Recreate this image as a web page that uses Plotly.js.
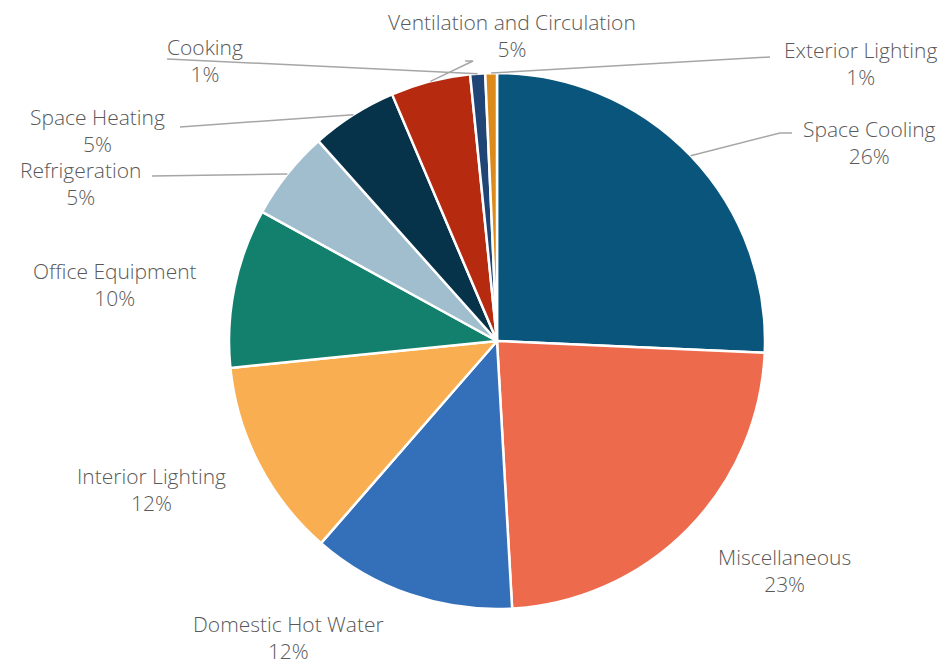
<!DOCTYPE html>
<html>
<head>
<meta charset="utf-8">
<script src="https://cdn.plot.ly/plotly-3.0.1.min.js"></script>
<style>html,body{margin:0;padding:0;background:#fff;}#chart{width:952px;height:667px;}</style>
</head>
<body>
<div id="chart"></div>
<script>
// ---- data ----
const categories = ["Space Cooling", "Miscellaneous", "Domestic Hot Water", "Interior Lighting",
  "Office Equipment", "Refrigeration", "Space Heating", "Ventilation and Circulation",
  "Cooking", "Exterior Lighting"];
const shares = [25.7, 23.4, 12.3, 12.0, 9.6, 5.4, 5.2, 4.8, 0.9, 0.7];
const colors = ["#0A557C", "#EE6A4D", "#3470B9", "#F9AF51", "#12806C",
  "#A0BECE", "#07334A", "#B62A10", "#1F4577", "#DB8A1B"];

// ---- layout constants (pixels) ----
const W = 952, H = 667;
const CX = 497, CY = 341, R = 268;
// label block centres and leader line anchor points (pixels); null = no leader
const labelPos = [
  {x: 869, y: 142, lead: [[792, 133], [780, 133]]},
  {x: 784, y: 570, lead: null},
  {x: 288, y: 637, lead: null},
  {x: 151, y: 489, lead: null},
  {x: 115, y: 284, lead: null},
  {x: 80,  y: 183, lead: [[152, 176]]},
  {x: 97,  y: 131, lead: [[180, 127]]},
  {x: 512, y: 36,  lead: [[465, 61], [473, 61]]},
  {x: 205, y: 60,  lead: [[167, 59]]},
  {x: 860, y: 64,  lead: [[770, 57]]}
];

const total = shares.reduce((a, b) => a + b, 0);
const domain = {
  x: [(CX - R) / W, (CX + R) / W],
  y: [1 - (CY + R) / H, 1 - (CY - R) / H]
};

const annotations = [];
const shapes = [];
let cum = 0;
categories.forEach((c, i) => {
  const mid = (cum + shares[i] / 2) / total * 2 * Math.PI;
  cum += shares[i];
  const lp = labelPos[i];
  annotations.push({
    xref: "paper", yref: "paper", x: lp.x / W, y: 1 - lp.y / H,
    xanchor: "center", yanchor: "middle", showarrow: false, align: "center",
    text: c + "<br>" + Math.round(shares[i]) + "%",
    font: {family: "'Open Sans', Lato, sans-serif", size: 21, weight: 300, color: "#595959"}
  });
  if (lp.lead) {
    const hx = CX + R * Math.sin(mid), hy = CY - R * Math.cos(mid);
    const pts = lp.lead.concat([[hx, hy]]);
    let path = "";
    pts.forEach((p, k) => {
      path += (k === 0 ? "M " : " L ") + (p[0] / W).toFixed(5) + "," + (1 - p[1] / H).toFixed(5);
    });
    shapes.push({type: "path", xref: "paper", yref: "paper", path: path,
      line: {color: "#A6A6A6", width: 1.5}, layer: "above"});
  }
});

const trace = {
  type: "pie",
  labels: categories,
  values: shares,
  sort: false,
  direction: "clockwise",
  rotation: 0,
  textinfo: "none",
  hoverinfo: "label+percent",
  marker: {colors: colors, line: {color: "#FFFFFF", width: 2.5}},
  domain: domain,
  showlegend: false
};

const layout = {
  width: W, height: H,
  margin: {l: 0, r: 0, t: 0, b: 0},
  paper_bgcolor: "#FFFFFF",
  showlegend: false,
  annotations: annotations,
  shapes: shapes
};

Plotly.newPlot("chart", [trace], layout, {staticPlot: true, displayModeBar: false});
</script>
</body>
</html>
